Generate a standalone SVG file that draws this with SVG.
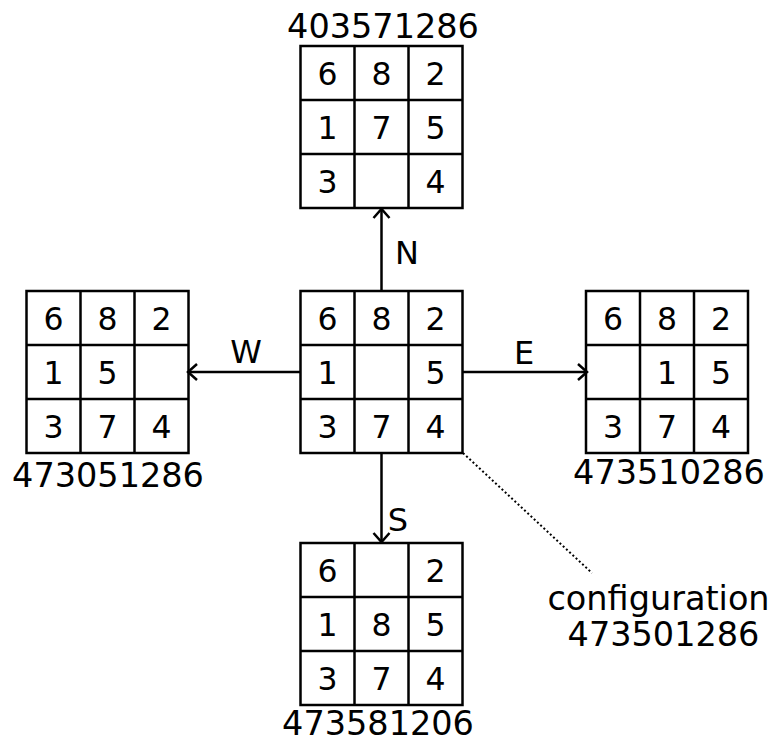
<svg xmlns="http://www.w3.org/2000/svg" width="775" height="743" viewBox="0 0 775 743">
  <style>
    .grid { fill: none; stroke: #000; stroke-width: 2.5; }
    .cell { font-family: "DejaVu Sans", "Liberation Sans", sans-serif; font-size: 31.5px; text-anchor: middle; fill: #000; }
    .lbl { font-family: "DejaVu Sans", "Liberation Sans", sans-serif; font-size: 33.5px; text-anchor: middle; fill: #000; }
    .move { font-family: "DejaVu Sans", "Liberation Sans", sans-serif; font-size: 32px; text-anchor: middle; fill: #000; }
    .conn { fill: none; stroke: #000; stroke-width: 2.5; marker-end: url(#chev); }
    .dots { fill: none; stroke: #000; stroke-width: 2; stroke-dasharray: 2 2.4; }
  </style>
  <defs>
    <marker id="chev" markerUnits="userSpaceOnUse" markerWidth="24" markerHeight="24" viewBox="-12 -12 24 24" refX="0" refY="0" orient="auto">
      <path d="M -9 -8 L 0 0 L -9 8" fill="none" stroke="#000" stroke-width="2.5"/>
    </marker>
    <!-- 3x3 board outline, cell size 54 -->
    <g id="board">
      <rect class="grid" x="0" y="0" width="162" height="162"/>
      <path class="grid" d="M54 0V162M108 0V162M0 54H162M0 108H162"/>
    </g>
  </defs>

  <rect width="775" height="743" fill="#fff"/>

  <!-- connectors -->
  <g id="connectors">
    <line class="conn" x1="381.5" y1="291" x2="381.5" y2="209"/>
    <line class="conn" x1="300.5" y1="372" x2="188" y2="372"/>
    <line class="conn" x1="462.5" y1="372" x2="587" y2="372"/>
    <line class="conn" x1="381.5" y1="453" x2="381.5" y2="542"/>
    <line class="dots" x1="463" y1="453" x2="592" y2="573"/>
    <text class="move" x="407" y="264">N</text>
    <text class="move" x="246" y="363">W</text>
    <text class="move" x="524" y="364">E</text>
    <text class="move" x="398" y="531">S</text>
  </g>

  <!-- centre configuration -->
  <g id="center" transform="translate(300.5,291)">
    <use href="#board"/>
    <text class="cell" x="27" y="38.5">6</text><text class="cell" x="81" y="38.5">8</text><text class="cell" x="135" y="38.5">2</text>
    <text class="cell" x="27" y="92.5">1</text><text class="cell" x="135" y="92.5">5</text>
    <text class="cell" x="27" y="146.5">3</text><text class="cell" x="81" y="146.5">7</text><text class="cell" x="135" y="146.5">4</text>
  </g>

  <!-- north move -->
  <g id="north" transform="translate(300.5,46)">
    <use href="#board"/>
    <text class="cell" x="27" y="38.5">6</text><text class="cell" x="81" y="38.5">8</text><text class="cell" x="135" y="38.5">2</text>
    <text class="cell" x="27" y="92.5">1</text><text class="cell" x="81" y="92.5">7</text><text class="cell" x="135" y="92.5">5</text>
    <text class="cell" x="27" y="146.5">3</text><text class="cell" x="135" y="146.5">4</text>
    <text class="lbl" x="82.5" y="-8">403571286</text>
  </g>

  <!-- west move -->
  <g id="west" transform="translate(26.5,291)">
    <use href="#board"/>
    <text class="cell" x="27" y="38.5">6</text><text class="cell" x="81" y="38.5">8</text><text class="cell" x="135" y="38.5">2</text>
    <text class="cell" x="27" y="92.5">1</text><text class="cell" x="81" y="92.5">5</text>
    <text class="cell" x="27" y="146.5">3</text><text class="cell" x="81" y="146.5">7</text><text class="cell" x="135" y="146.5">4</text>
    <text class="lbl" x="81.5" y="196">473051286</text>
  </g>

  <!-- east move -->
  <g id="east" transform="translate(586,291)">
    <use href="#board"/>
    <text class="cell" x="27" y="38.5">6</text><text class="cell" x="81" y="38.5">8</text><text class="cell" x="135" y="38.5">2</text>
    <text class="cell" x="81" y="92.5">1</text><text class="cell" x="135" y="92.5">5</text>
    <text class="cell" x="27" y="146.5">3</text><text class="cell" x="81" y="146.5">7</text><text class="cell" x="135" y="146.5">4</text>
    <text class="lbl" x="83" y="193">473510286</text>
  </g>

  <!-- south move -->
  <g id="south" transform="translate(300.5,543)">
    <use href="#board"/>
    <text class="cell" x="27" y="38.5">6</text><text class="cell" x="135" y="38.5">2</text>
    <text class="cell" x="27" y="92.5">1</text><text class="cell" x="81" y="92.5">8</text><text class="cell" x="135" y="92.5">5</text>
    <text class="cell" x="27" y="146.5">3</text><text class="cell" x="81" y="146.5">7</text><text class="cell" x="135" y="146.5">4</text>
    <text class="lbl" x="77.5" y="192">473581206</text>
  </g>

  <!-- annotation -->
  <g id="note">
    <text class="lbl" x="658.5" y="610">configuration</text>
    <text class="lbl" x="663.5" y="646">473501286</text>
  </g>
</svg>
